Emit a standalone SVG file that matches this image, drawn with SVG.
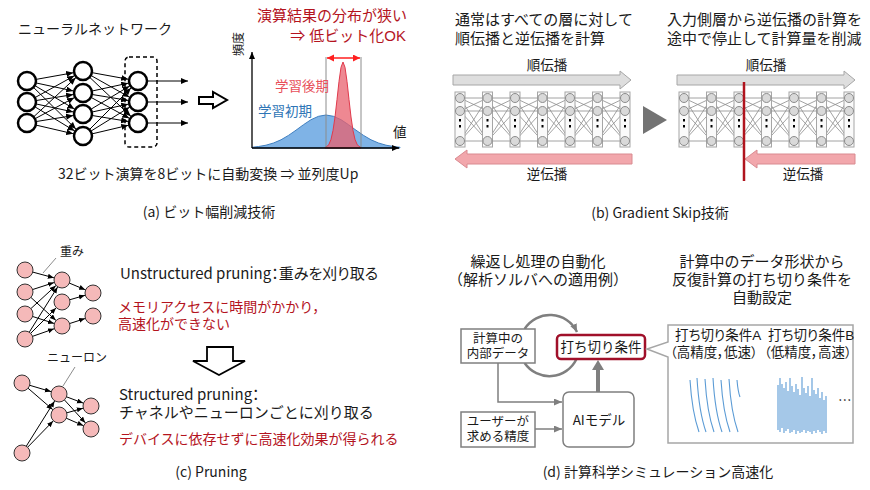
<svg xmlns="http://www.w3.org/2000/svg" width="870" height="490" viewBox="0 0 870 490">
<style>
text{font-family:"Noto Sans CJK JP","Noto Sans",sans-serif;fill:#1a1a1a}
text.jp{font-family:"Liberation Sans","Noto Sans CJK JP",sans-serif}
.f15{font-size:15px}.f14{font-size:14px}.f13{font-size:13.5px}.f12{font-size:12px}.fb{font-size:12.5px}
.palt{font-feature-settings:"palt"}
.red{fill:#b4141e}.mid{text-anchor:middle}
.nn{fill:#fff;stroke:#000;stroke-width:2.5}
.e{stroke:#000;stroke-width:1;fill:none}
.pk{fill:#f5b9b9;stroke:#333;stroke-width:1}
.gbox{fill:#fff;stroke:#7f7f7f;stroke-width:1.5}
.ga{stroke:#7f7f7f;stroke-width:1.5;fill:none}
.wave{stroke:#5b9bd5;stroke-width:1.1;fill:none}
</style>
<defs>
<marker id="ah" markerUnits="userSpaceOnUse" markerWidth="8" markerHeight="7" refX="17" refY="3" orient="auto"><path d="M0,0 L7,3 L0,6 z" fill="#000"/></marker>
<marker id="ahe" markerUnits="userSpaceOnUse" markerWidth="8" markerHeight="7" refX="7" refY="3" orient="auto"><path d="M0,0 L7,3 L0,6 z" fill="#000"/></marker>
<marker id="ahc" markerUnits="userSpaceOnUse" markerWidth="7" markerHeight="6" refX="14.5" refY="2.5" orient="auto"><path d="M0,0 L6,2.5 L0,5 z" fill="#000"/></marker>
<marker id="ahr" markerUnits="userSpaceOnUse" markerWidth="8" markerHeight="8" refX="7" refY="3.5" orient="auto-start-reverse"><path d="M0,0 L7,3.5 L0,7 z" fill="#ff1f1f"/></marker>
<marker id="ahg" markerUnits="userSpaceOnUse" markerWidth="9" markerHeight="8" refX="8" refY="3.5" orient="auto"><path d="M0,0 L8,3.5 L0,7 z" fill="#7f7f7f"/></marker>
<g id="lnk" stroke="#8c8c8c" stroke-width="0.8">
<line x1="0" y1="98" x2="27.5" y2="98"/><line x1="0" y1="98" x2="27.5" y2="111"/><line x1="0" y1="98" x2="27.5" y2="141"/>
<line x1="0" y1="111" x2="27.5" y2="98"/><line x1="0" y1="111" x2="27.5" y2="111"/><line x1="0" y1="111" x2="27.5" y2="141"/>
<line x1="0" y1="141" x2="27.5" y2="98"/><line x1="0" y1="141" x2="27.5" y2="111"/><line x1="0" y1="141" x2="27.5" y2="141"/>
</g>
<g id="col">
<rect x="-5" y="92" width="10" height="55" fill="#fafafa" stroke="#a6a6a6" stroke-width="1"/>
<circle cx="0" cy="98" r="4.5" fill="#d9d9d9" stroke="#8c8c8c"/>
<circle cx="0" cy="111" r="4.5" fill="#d9d9d9" stroke="#8c8c8c"/>
<circle cx="0" cy="141" r="4.5" fill="#d9d9d9" stroke="#8c8c8c"/>
<rect x="-1" y="119" width="2" height="2.5" fill="#000"/>
<rect x="-1" y="125" width="2" height="2.5" fill="#000"/>
</g>
</defs>

<!-- ===== Panel (a) ===== -->
<g id="panel-a">
<text x="18" y="34" class="f14">ニューラルネットワーク</text>
<g id="a-connectors">
<line class="e" x1="27" y1="81" x2="83" y2="71" marker-end="url(#ah)"/>
<line class="e" x1="27" y1="81" x2="83" y2="93" marker-end="url(#ah)"/>
<line class="e" x1="27" y1="81" x2="83" y2="114" marker-end="url(#ah)"/>
<line class="e" x1="27" y1="81" x2="83" y2="136" marker-end="url(#ah)"/>
<line class="e" x1="27" y1="102" x2="83" y2="71" marker-end="url(#ah)"/>
<line class="e" x1="27" y1="102" x2="83" y2="93" marker-end="url(#ah)"/>
<line class="e" x1="27" y1="102" x2="83" y2="114" marker-end="url(#ah)"/>
<line class="e" x1="27" y1="102" x2="83" y2="136" marker-end="url(#ah)"/>
<line class="e" x1="27" y1="123" x2="83" y2="71" marker-end="url(#ah)"/>
<line class="e" x1="27" y1="123" x2="83" y2="93" marker-end="url(#ah)"/>
<line class="e" x1="27" y1="123" x2="83" y2="114" marker-end="url(#ah)"/>
<line class="e" x1="27" y1="123" x2="83" y2="136" marker-end="url(#ah)"/>
<line class="e" x1="83" y1="71" x2="138" y2="81" marker-end="url(#ah)"/>
<line class="e" x1="83" y1="71" x2="138" y2="102" marker-end="url(#ah)"/>
<line class="e" x1="83" y1="71" x2="138" y2="123" marker-end="url(#ah)"/>
<line class="e" x1="83" y1="93" x2="138" y2="81" marker-end="url(#ah)"/>
<line class="e" x1="83" y1="93" x2="138" y2="102" marker-end="url(#ah)"/>
<line class="e" x1="83" y1="93" x2="138" y2="123" marker-end="url(#ah)"/>
<line class="e" x1="83" y1="114" x2="138" y2="81" marker-end="url(#ah)"/>
<line class="e" x1="83" y1="114" x2="138" y2="102" marker-end="url(#ah)"/>
<line class="e" x1="83" y1="114" x2="138" y2="123" marker-end="url(#ah)"/>
<line class="e" x1="83" y1="136" x2="138" y2="81" marker-end="url(#ah)"/>
<line class="e" x1="83" y1="136" x2="138" y2="102" marker-end="url(#ah)"/>
<line class="e" x1="83" y1="136" x2="138" y2="123" marker-end="url(#ah)"/>
<line class="e" x1="147" y1="81" x2="188" y2="81" marker-end="url(#ahe)"/>
<line class="e" x1="147" y1="102" x2="188" y2="102" marker-end="url(#ahe)"/>
<line class="e" x1="147" y1="123" x2="188" y2="123" marker-end="url(#ahe)"/>
</g>
<g id="a-in1"><circle class="nn" cx="27" cy="81" r="9"/></g>
<g id="a-in2"><circle class="nn" cx="27" cy="102" r="9"/></g>
<g id="a-in3"><circle class="nn" cx="27" cy="123" r="9"/></g>
<g id="a-h1"><circle class="nn" cx="83" cy="71" r="9"/></g>
<g id="a-h2"><circle class="nn" cx="83" cy="93" r="9"/></g>
<g id="a-h3"><circle class="nn" cx="83" cy="114" r="9"/></g>
<g id="a-h4"><circle class="nn" cx="83" cy="136" r="9"/></g>
<g id="a-o1"><circle class="nn" cx="138" cy="81" r="9"/></g>
<g id="a-o2"><circle class="nn" cx="138" cy="102" r="9"/></g>
<g id="a-o3"><circle class="nn" cx="138" cy="123" r="9"/></g>
<rect x="125" y="57" width="32" height="90" rx="4" fill="none" stroke="#000" stroke-width="1.5" stroke-dasharray="4 3"/>
<polygon points="199,97 213,97 213,92 227,100 213,108 213,104 199,104" fill="#fff" stroke="#000" stroke-width="2"/>
<polygon fill="#7fb3e6" stroke="#3f7fc0" stroke-width="1" points="252,148 252,147.3 258.5,146.5 266,145.2 273.5,143 281,139.8 288.5,135.4 296,130.2 303.5,124.7 311,119.7 318.5,116.3 326,115 333.5,116.3 341,119.7 348.5,124.7 356,130.2 363.5,135.4 371,139.8 378.5,143 386,145.2 393.5,146.5 400,147.3 400,148"/>
<polygon fill="#e8606e" fill-opacity="0.75" stroke="#e03a4c" stroke-width="1" points="325,148 325,147.5 327,146.5 329,144.2 331,139.4 333,130.5 335,117 337,99.6 339,81.4 341,67.3 343,62 345,67.3 347,81.4 349,99.6 351,117 353,130.5 355,139.4 357,144.2 359,146.5 361,147.5 361,148"/>
<line x1="326" y1="57" x2="326" y2="148" stroke="#8c8c8c" stroke-width="1"/>
<line x1="361" y1="57" x2="361" y2="148" stroke="#8c8c8c" stroke-width="1"/>
<line x1="327" y1="58" x2="360" y2="58" stroke="#ff1f1f" stroke-width="1.5" marker-start="url(#ahr)" marker-end="url(#ahr)"/>
<line x1="252" y1="148" x2="252" y2="52" stroke="#000" stroke-width="1.3" marker-end="url(#ahe)"/>
<line x1="252" y1="148" x2="399" y2="148" stroke="#000" stroke-width="1.3" marker-end="url(#ahe)"/>
<text x="239" y="44" class="f12 mid" transform="rotate(-90 239 44)" dy="4">頻度</text>
<text x="393" y="137" class="f13">値</text>
<text x="275" y="91" class="f13" style="fill:#e8505b">学習後期</text>
<text x="258" y="116" class="f13" style="fill:#2e75b6">学習初期</text>
<text x="257" y="21" class="f15 red jp">演算結果の分布が狭い</text>
<text x="406" y="41" class="f15 red jp" text-anchor="end">⇒ 低ビット化OK</text>
<text x="58" y="179" class="f14">32ビット演算を8ビットに自動変換 ⇒ 並列度Up</text>
<text x="209" y="217" class="f14 mid">(a) ビット幅削減技術</text>
</g>

<!-- ===== Panel (b) ===== -->
<g id="panel-b">
<text x="455" y="25" class="f15 jp">通常はすべての層に対して</text>
<text x="455" y="44" class="f15 jp">順伝播と逆伝播を計算</text>
<text x="667" y="25" class="f15 jp">入力側層から逆伝播の計算を</text>
<text x="667" y="44" class="f15 jp">途中で停止して計算量を削減</text>
<text x="547" y="70" class="f13 mid">順伝播</text>
<text x="766" y="70" class="f13 mid">順伝播</text>
<polygon points="453,75 620,75 620,71 631,80 620,89 620,85 453,85" fill="#dedede" stroke="#a6a6a6"/>
<polygon points="677,75 844,75 844,71 855,80 844,89 844,85 677,85" fill="#dedede" stroke="#a6a6a6"/>
<g id="b-left-net">
<use href="#lnk" x="460"/><use href="#lnk" x="487.5"/><use href="#lnk" x="515"/><use href="#lnk" x="542.5"/><use href="#lnk" x="570"/><use href="#lnk" x="597.5"/>
<use href="#col" x="460"/><use href="#col" x="487.5"/><use href="#col" x="515"/><use href="#col" x="542.5"/><use href="#col" x="570"/><use href="#col" x="597.5"/><use href="#col" x="625"/>
</g>
<g id="b-right-net">
<use href="#lnk" x="684"/><use href="#lnk" x="711.5"/><use href="#lnk" x="739"/><use href="#lnk" x="766.5"/><use href="#lnk" x="794"/><use href="#lnk" x="821.5"/>
<use href="#col" x="684"/><use href="#col" x="711.5"/><use href="#col" x="739"/><use href="#col" x="766.5"/><use href="#col" x="794"/><use href="#col" x="821.5"/><use href="#col" x="849"/>
</g>
<polygon points="632,154 467,154 467,150 455,159 467,168 467,164 632,164" fill="#f2a7ac" stroke="#d98a90"/>
<polygon points="855,154 757,154 757,150 745,159 757,168 757,164 855,164" fill="#f2a7ac" stroke="#d98a90"/>
<polygon points="643,106 643,134 667,120" fill="#737373"/>
<line x1="744" y1="82" x2="744" y2="181" stroke="#b0141e" stroke-width="2.5"/>
<text x="547" y="179" class="f13 mid">逆伝播</text>
<text x="803" y="179" class="f13 mid">逆伝播</text>
<text x="660" y="218" class="f14 mid">(b) Gradient Skip技術</text>
</g>

<!-- ===== Panel (c) ===== -->
<g id="panel-c">
<g id="c-connectors">
<line class="e" x1="25" y1="270" x2="62" y2="280" marker-end="url(#ahc)"/>
<line class="e" x1="25" y1="292" x2="62" y2="280" marker-end="url(#ahc)"/>
<line class="e" x1="25" y1="292" x2="62" y2="326" marker-end="url(#ahc)"/>
<line class="e" x1="25" y1="314" x2="62" y2="280" marker-end="url(#ahc)"/>
<line class="e" x1="25" y1="314" x2="62" y2="326" marker-end="url(#ahc)"/>
<line class="e" x1="25" y1="339" x2="62" y2="280" marker-end="url(#ahc)"/>
<line class="e" x1="25" y1="339" x2="62" y2="302" marker-end="url(#ahc)"/>
<line class="e" x1="25" y1="339" x2="62" y2="326" marker-end="url(#ahc)"/>
<line class="e" x1="62" y1="280" x2="93" y2="293" marker-end="url(#ahc)"/>
<line class="e" x1="62" y1="302" x2="93" y2="293" marker-end="url(#ahc)"/>
<line class="e" x1="62" y1="326" x2="93" y2="316" marker-end="url(#ahc)"/>
<line class="e" x1="22" y1="383" x2="59" y2="394" marker-end="url(#ahc)"/>
<line class="e" x1="22" y1="383" x2="59" y2="415" marker-end="url(#ahc)"/>
<line class="e" x1="22" y1="453" x2="59" y2="394" marker-end="url(#ahc)"/>
<line class="e" x1="22" y1="453" x2="59" y2="415" marker-end="url(#ahc)"/>
<line class="e" x1="59" y1="394" x2="91" y2="406" marker-end="url(#ahc)"/>
<line class="e" x1="59" y1="394" x2="91" y2="429" marker-end="url(#ahc)"/>
<line class="e" x1="59" y1="415" x2="91" y2="406" marker-end="url(#ahc)"/>
<line class="e" x1="59" y1="415" x2="91" y2="429" marker-end="url(#ahc)"/>
<line x1="56" y1="258" x2="43" y2="273" stroke="#8c8c8c" stroke-width="1"/>
<line x1="75" y1="367" x2="63" y2="386" stroke="#8c8c8c" stroke-width="1"/>
</g>
<g id="c-t-l1"><circle class="pk" cx="25" cy="270" r="8"/></g>
<g id="c-t-l2"><circle class="pk" cx="25" cy="292" r="8"/></g>
<g id="c-t-l3"><circle class="pk" cx="25" cy="314" r="8"/></g>
<g id="c-t-l4"><circle class="pk" cx="25" cy="339" r="8"/></g>
<g id="c-t-m1"><circle class="pk" cx="62" cy="280" r="8"/></g>
<g id="c-t-m2"><circle class="pk" cx="62" cy="302" r="8"/></g>
<g id="c-t-m3"><circle class="pk" cx="62" cy="326" r="8"/></g>
<g id="c-t-r1"><circle class="pk" cx="93" cy="293" r="8"/></g>
<g id="c-t-r2"><circle class="pk" cx="93" cy="316" r="8"/></g>
<g id="c-b-l1"><circle class="pk" cx="22" cy="383" r="8"/></g>
<g id="c-b-l2"><circle class="pk" cx="22" cy="453" r="8"/></g>
<g id="c-b-m1"><circle class="pk" cx="59" cy="394" r="8"/></g>
<g id="c-b-m2"><circle class="pk" cx="59" cy="415" r="8"/></g>
<g id="c-b-r1"><circle class="pk" cx="91" cy="406" r="8"/></g>
<g id="c-b-r2"><circle class="pk" cx="91" cy="429" r="8"/></g>
<text x="60" y="256" class="f12">重み</text>
<text x="47" y="362" class="f12">ニューロン</text>
<text x="120" y="279" class="f15 palt">Unstructured pruning：重みを刈り取る</text>
<text x="118" y="312" class="f14 red jp">メモリアクセスに時間がかかり，</text>
<text x="118" y="329" class="f14 red jp">高速化ができない</text>
<polygon points="207,347 233,347 233,361 245,361 219,375 193,361 207,361" fill="#fff" stroke="#000" stroke-width="1.8"/>
<text x="119" y="400" class="f15 palt">Structured pruning：</text>
<text x="119" y="418" class="f15 jp">チャネルやニューロンごとに刈り取る</text>
<text x="119" y="444" class="f14 red">デバイスに依存せずに高速化効果が得られる</text>
<text x="211" y="477" class="f14 mid">(c) Pruning</text>
</g>

<!-- ===== Panel (d) ===== -->
<g id="panel-d">
<text x="538" y="267" class="f15 mid jp">繰返し処理の自動化</text>
<text x="538" y="285" class="f15 mid jp">（解析ソルバへの適用例）</text>
<text x="762" y="267" class="f15 mid jp">計算中のデータ形状から</text>
<text x="762" y="285" class="f15 mid jp">反復計算の打ち切り条件を</text>
<text x="762" y="303" class="f15 mid jp">自動設定</text>
<g id="d-connectors">
<path d="M524.6,329 A30,30 0 0 1 577,332" stroke="#7f7f7f" stroke-width="2.5" fill="none" marker-end="url(#ahg)"/>
<path d="M524.6,363 A30,30 0 0 0 576.5,359" stroke="#7f7f7f" stroke-width="2.5" fill="none"/>
<path class="ga" d="M498,363 V402 H562" marker-end="url(#ahg)"/>
<path class="ga" d="M535,429 H562" marker-end="url(#ahg)"/>
<line x1="598" y1="392" x2="598" y2="368" stroke="#7f7f7f" stroke-width="4"/>
<polygon points="592,370 604,370 598,360" fill="#7f7f7f"/>
</g>
<g id="d-data">
<rect class="gbox" x="461" y="329" width="74" height="34"/>
<text x="498" y="342.5" class="fb mid jp">計算中の</text>
<text x="498" y="358" class="fb mid jp">内部データ</text>
</g>
<g id="d-cond">
<rect x="557" y="335" width="88" height="24" rx="4" fill="#fff" stroke="#a0102a" stroke-width="2.5"/>
<text x="601" y="352" class="f13 mid">打ち切り条件</text>
</g>
<g id="d-user">
<rect class="gbox" x="461" y="412" width="74" height="35"/>
<text x="498" y="425.5" class="fb mid jp">ユーザーが</text>
<text x="498" y="441" class="fb mid jp">求める精度</text>
</g>
<g id="d-ai">
<rect class="gbox" x="563" y="392" width="71" height="55" rx="6"/>
<text x="599" y="425" class="f13 mid">AIモデル</text>
</g>
<g id="d-callout">
<path d="M668,325 H853 V443 H668 V357 L647,349 L668,342 Z" fill="#fff" stroke="#a6a6a6" stroke-width="1.5"/>
<text x="675" y="340" class="f13 palt jp">打ち切り条件A</text>
<text x="670" y="357" class="f13 palt jp">（高精度，低速）</text>
<text x="768" y="340" class="f13 palt jp">打ち切り条件B</text>
<text x="764" y="357" class="f13 palt jp">（低精度，高速）</text>
<path class="wave" d="M690,380 Q692,412 699,432 M697,378 Q699,412 706,432 M705,379 Q707,412 714,432 M713,378 Q715,412 722,432 M721,380 Q723,412 730,432 M729,379 Q731,412 738,432 M737,380 Q738,392 740,397"/>
<path class="wave" stroke-width="0.8" d="M778,385V430M780,378V432M782,384V428M784,388V433M786,382V431M788,391V429M790,378V433M792,386V432M794,392V430M796,384V434M798,389V431M800,395V433M802,377V432M804,388V430M806,393V433M808,386V431M810,396V432M812,378V434M814,390V431M816,394V433M818,388V430M820,398V432M822,392V434M824,400V431M826,396V433"/>
<text x="838" y="405" class="f13">…</text>
</g>
<text x="658" y="477" class="f14 mid">(d) 計算科学シミュレーション高速化</text>
</g>
</svg>
